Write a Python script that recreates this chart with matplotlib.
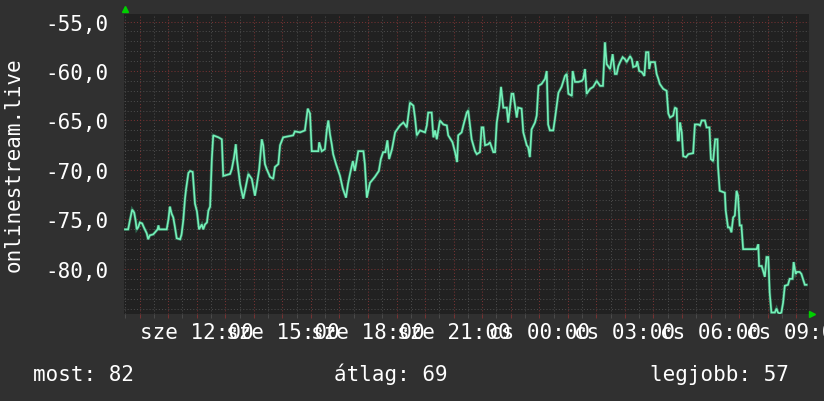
import matplotlib
matplotlib.use('Agg')
import matplotlib.pyplot as plt
from matplotlib.ticker import MultipleLocator, FixedLocator, FuncFormatter

# ---- data (hours since sze 00:00, signal value) ----
times = [9.49, 9.60, 9.66, 9.74, 9.81, 9.86, 9.90, 9.95, 10.01, 10.09, 10.15, 10.25, 10.30, 10.36, 10.48,
         10.63, 10.66, 10.69, 10.95, 11.01, 11.06, 11.12, 11.18, 11.24, 11.30, 11.42, 11.47, 11.53, 11.59,
         11.63, 11.71, 11.77, 11.86, 11.94, 12.01, 12.08, 12.18, 12.23, 12.29, 12.36, 12.41, 12.47, 12.53,
         12.58, 12.76, 12.88, 12.93, 13.17, 13.23, 13.31, 13.37, 13.41, 13.52, 13.63, 13.69, 13.81, 13.93,
         14.04, 14.10, 14.19, 14.28, 14.33, 14.39, 14.45, 14.57, 14.68, 14.74, 14.86, 14.92, 15.03, 15.38,
         15.44, 15.62, 15.79, 15.89, 15.97, 16.03, 16.26, 16.29, 16.38, 16.49, 16.56, 16.61, 16.67, 16.73,
         16.78, 16.88, 17.02, 17.12, 17.23, 17.30, 17.37, 17.47, 17.54, 17.66, 17.84, 17.89, 17.96, 18.07,
         18.24, 18.38, 18.45, 18.53, 18.61, 18.68, 18.74, 18.84, 18.95, 19.12, 19.24, 19.36, 19.47, 19.59,
         19.65, 19.71, 19.82, 20.00, 20.06, 20.11, 20.23, 20.29, 20.35, 20.41, 20.52, 20.64, 20.76, 20.81,
         20.96, 21.05, 21.12, 21.16, 21.28, 21.34, 21.46, 21.51, 21.57, 21.63, 21.75, 21.81, 21.92, 21.98,
         22.04, 22.10, 22.21, 22.27, 22.39, 22.45, 22.51, 22.60, 22.66, 22.74, 22.86, 22.91, 22.97, 23.03,
         23.09, 23.15, 23.21, 23.26, 23.38, 23.44, 23.56, 23.61, 23.67, 23.73, 23.85, 23.91, 23.97, 24.08,
         24.20, 24.26, 24.31, 24.37, 24.49, 24.55, 24.67, 24.78, 24.90, 24.96, 25.02, 25.14, 25.17, 25.25,
         25.37, 25.49, 25.54, 25.60, 25.66, 25.78, 25.89, 26.01, 26.13, 26.23, 26.30, 26.36, 26.48, 26.57,
         26.65, 26.71, 26.77, 26.83, 26.92, 27.00, 27.06, 27.18, 27.24, 27.29, 27.39, 27.43, 27.50, 27.59,
         27.68, 27.74, 27.82, 27.85, 27.90, 28.05, 28.11, 28.17, 28.22, 28.34, 28.46, 28.52, 28.58, 28.69,
         28.75, 28.81, 28.85, 28.89, 28.93, 28.99, 29.04, 29.14, 29.22, 29.39, 29.45, 29.57, 29.63, 29.69,
         29.80, 29.86, 29.96, 30.01, 30.09, 30.16, 30.24, 30.26, 30.32, 30.50, 30.53, 30.61, 30.67, 30.73,
         30.79, 30.85, 30.91, 30.96, 31.02, 31.08, 31.14, 31.61, 31.67, 31.70, 31.79, 31.84, 31.90, 31.96,
         32.02, 32.07, 32.13, 32.25, 32.31, 32.36, 32.42, 32.48, 32.54, 32.60, 32.71, 32.77, 32.87, 32.91,
         32.98, 33.02, 33.12, 33.18, 33.30, 33.36]
values = [-76.0, -76.0, -75.1, -74.0, -74.3, -75.1, -76.0, -75.8, -75.3, -75.4, -75.8, -76.4, -77.0, -76.6, -76.5,
          -76.0, -75.6, -76.0, -76.0, -75.0, -73.7, -74.4, -74.8, -75.8, -76.9, -77.0, -76.5, -75.1, -72.9,
          -71.9, -70.3, -70.1, -70.2, -73.4, -74.2, -76.0, -75.5, -76.0, -75.5, -75.3, -74.1, -73.7, -68.9,
          -66.5, -66.7, -66.9, -70.6, -70.4, -69.9, -68.7, -67.4, -68.9, -71.4, -72.9, -72.1, -70.4, -70.9,
          -72.6, -71.6, -69.9, -66.9, -67.5, -69.4, -69.9, -70.7, -70.9, -69.7, -69.4, -67.5, -66.7, -66.5,
          -66.1, -66.2, -66.0, -63.8, -64.3, -68.1, -68.1, -67.2, -68.1, -67.9, -65.9, -65.0, -66.4, -67.4,
          -68.4, -69.4, -70.6, -71.9, -72.8, -71.4, -70.4, -69.1, -70.1, -68.1, -68.1, -69.4, -72.8, -71.3,
          -70.7, -70.1, -68.9, -68.2, -68.2, -67.0, -68.9, -67.9, -66.2, -65.5, -65.2, -65.7, -63.2, -63.5,
          -64.8, -66.5, -66.0, -66.2, -65.5, -64.2, -64.2, -66.7, -66.0, -66.9, -65.0, -65.4, -65.5, -66.5,
          -67.2, -68.2, -69.2, -66.5, -66.2, -65.5, -64.2, -64.0, -65.4, -66.9, -68.1, -68.4, -68.2, -65.7,
          -65.7, -67.5, -67.4, -67.2, -68.2, -68.2, -65.2, -63.5, -61.6, -63.7, -63.7, -65.2, -63.8, -62.3,
          -62.3, -63.5, -64.7, -63.7, -63.8, -66.2, -67.5, -67.7, -68.7, -65.9, -65.2, -64.5, -61.5, -61.3,
          -60.8, -60.0, -65.4, -66.0, -66.0, -64.8, -62.2, -61.6, -60.5, -60.3, -62.3, -62.5, -60.0, -61.1,
          -61.1, -61.0, -60.8, -59.8, -62.3, -61.8, -61.6, -61.0, -61.5, -61.5, -57.1, -59.3, -59.8, -58.3,
          -60.3, -60.3, -59.5, -59.1, -58.6, -58.8, -59.1, -58.5, -58.8, -59.6, -59.5, -59.0, -60.0, -60.1,
          -60.5, -58.1, -58.1, -59.8, -59.1, -59.1, -60.3, -60.8, -61.3, -61.8, -62.0, -64.3, -64.7, -64.5,
          -63.7, -63.8, -67.0, -67.0, -65.2, -66.2, -68.6, -68.7, -68.4, -68.3, -65.4, -65.4, -65.5, -65.0,
          -65.0, -65.7, -65.7, -68.9, -69.1, -66.9, -66.9, -69.6, -72.1, -72.3, -74.1, -75.8, -75.8, -76.3,
          -74.8, -74.6, -72.1, -72.6, -75.6, -75.6, -78.0, -78.0, -77.5, -79.7, -79.7, -80.2, -80.8, -78.8,
          -78.8, -82.4, -84.4, -84.4, -84.0, -84.4, -84.5, -84.4, -83.4, -81.7, -81.6, -81.0, -81.0, -79.3,
          -80.5, -80.3, -80.3, -80.5, -81.6, -81.6]

x_tick_hours = [12, 15, 18, 21, 24, 27, 30, 33]
x_tick_labels = ['sze 12:00', 'sze 15:00', 'sze 18:00', 'sze 21:00',
                 'cs 00:00', 'cs 03:00', 'cs 06:00', 'cs 09:00']
y_ticks = [-80, -75, -70, -65, -60, -55]
y_tick_labels = ['-80,0', '-75,0', '-70,0', '-65,0', '-60,0', '-55,0']
x_start, x_end = 9.454, 33.447
y_min, y_max = -84.55, -54.24
y_label = 'onlinestream.live'
stats_labels = ['most: 82', 'átlag: 69', 'legjobb: 57']

# ---- style ----
plt.rcParams['font.family'] = ['DejaVu Sans Mono']
W, H = 824, 402
OUTER = '#303030'
CANVAS = '#212121'
MAJOR = '#763232'
MINOR = '#4a4a4a'
LINE = '#74f0b8'

fig = plt.figure(figsize=(W / 100, H / 100), dpi=100, facecolor=OUTER)
ax = fig.add_axes([124 / W, (H - 315) / H, 685 / W, 300 / H])
ax.set_facecolor(CANVAS)
ax.set_xlim(x_start, x_end)
ax.set_ylim(y_min, y_max)
for s in ax.spines.values():
    s.set_visible(False)

ax.xaxis.set_major_locator(MultipleLocator(1))
ax.xaxis.set_minor_locator(MultipleLocator(0.5))
lab_map = dict(zip(x_tick_hours, x_tick_labels))
ax.xaxis.set_major_formatter(FuncFormatter(lambda v, p: lab_map.get(int(round(v)), '')))
ax.yaxis.set_major_locator(FixedLocator(y_ticks))
ax.yaxis.set_minor_locator(MultipleLocator(1))
ax.set_yticklabels(y_tick_labels)

dot = (0, (1, 2))
ax.grid(which='minor', color=MINOR, linestyle=dot, linewidth=0.75)
ax.grid(which='major', color=MAJOR, linestyle=dot, linewidth=0.75)
ax.set_axisbelow(True)

ax.tick_params(axis='x', which='major', direction='out', length=3, width=0.75,
               color=MAJOR, labelsize=15, labelcolor='white', pad=3)
ax.tick_params(axis='x', which='minor', direction='out', length=3, width=0.75, color=MINOR)
ax.tick_params(axis='y', which='both', length=0, labelsize=15, labelcolor='white', pad=11.5)

ax.plot(times, values, color='#3c9c74', linewidth=2.2, alpha=0.55, solid_joinstyle='miter')
ax.plot(times, values, color=LINE, linewidth=1.2, solid_joinstyle='miter')

# little green arrows at axis ends
ax.plot([0.0015], [1.017], marker='^', markersize=5, color='#00d000', transform=ax.transAxes, clip_on=False)
ax.plot([1.0045], [0.0], marker='>', markersize=5, color='#00d000', transform=ax.transAxes, clip_on=False)

fig.text(14 / W, 1 - 165 / H, y_label, rotation=90, ha='center', va='center', color='white', fontsize=15)

stat_x = [33, 334, 650]
for sx, txt in zip(stat_x, stats_labels):
    fig.text(sx / W, 1 - 381 / H, txt, ha='left', va='baseline', color='white', fontsize=15)

fig.savefig('out.png', dpi=100, facecolor=OUTER)
